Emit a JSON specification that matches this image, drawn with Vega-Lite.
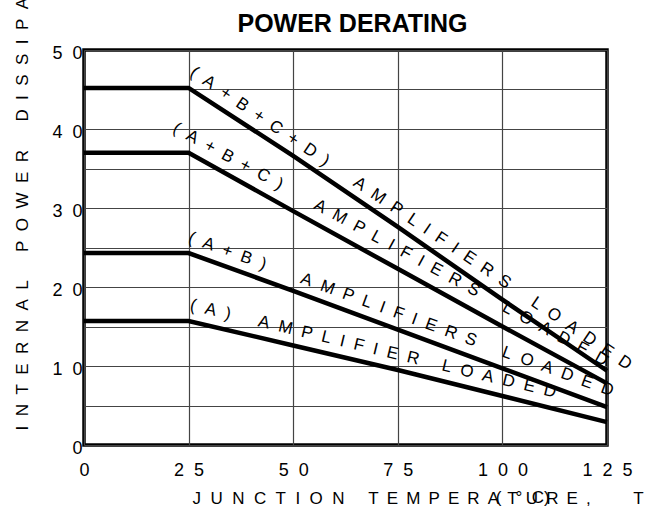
{
  "$schema": "https://vega.github.io/schema/vega-lite/v6.json",
  "width": 523,
  "height": 395,
  "autosize": {"type": "none"},
  "padding": {"left": 84, "top": 50, "right": 50, "bottom": 61},
  "background": "white",
  "config": {
    "view": {"stroke": "black", "strokeWidth": 3.5},
    "font": "Liberation Sans"
  },
  "title": {
    "text": "POWER DERATING",
    "font": "Liberation Sans",
    "fontSize": 25,
    "fontWeight": "bold",
    "color": "black",
    "anchor": "middle",
    "frame": "group",
    "dx": 7,
    "offset": -60,
    "baseline": "alphabetic"
  },
  "datasets": {
    "curves": [
      {"series": "ABCD", "x": 0, "y": 45.2}, {"series": "ABCD", "x": 25, "y": 45.2}, {"series": "ABCD", "x": 50, "y": 36.6}, {"series": "ABCD", "x": 75, "y": 27.6}, {"series": "ABCD", "x": 100, "y": 18.4}, {"series": "ABCD", "x": 125, "y": 9.4},
      {"series": "ABC", "x": 0, "y": 37.0}, {"series": "ABC", "x": 25, "y": 37.0}, {"series": "ABC", "x": 50, "y": 29.6}, {"series": "ABC", "x": 75, "y": 22.3}, {"series": "ABC", "x": 100, "y": 15.0}, {"series": "ABC", "x": 125, "y": 7.8},
      {"series": "AB", "x": 0, "y": 24.3}, {"series": "AB", "x": 25, "y": 24.3}, {"series": "AB", "x": 50, "y": 19.5}, {"series": "AB", "x": 75, "y": 14.6}, {"series": "AB", "x": 100, "y": 9.7}, {"series": "AB", "x": 125, "y": 4.8},
      {"series": "A", "x": 0, "y": 15.7}, {"series": "A", "x": 25, "y": 15.7}, {"series": "A", "x": 50, "y": 12.6}, {"series": "A", "x": 75, "y": 9.5}, {"series": "A", "x": 100, "y": 6.2}, {"series": "A", "x": 125, "y": 2.9}
    ],
    "labels": [
      {"series": "ABCD", "x": 25, "y": 45.2, "label": "(\u00a0\u00a0A\u00a0\u00a0+\u00a0\u00a0B\u00a0\u00a0+\u00a0\u00a0C\u00a0\u00a0+\u00a0\u00a0D\u00a0\u00a0)\u00a0\u00a0\u00a0\u00a0\u00a0\u00a0\u00a0A\u00a0\u00a0M\u00a0\u00a0P\u00a0\u00a0L\u00a0\u00a0I\u00a0\u00a0F\u00a0\u00a0I\u00a0\u00a0E\u00a0\u00a0R\u00a0\u00a0S\u00a0\u00a0\u00a0\u00a0\u00a0\u00a0L\u00a0\u00a0O\u00a0\u00a0A\u00a0\u00a0D\u00a0\u00a0E\u00a0\u00a0D"},
      {"series": "ABC", "x": 25, "y": 37.0, "label": "(\u00a0\u00a0A\u00a0\u00a0+\u00a0\u00a0B\u00a0\u00a0+\u00a0\u00a0C\u00a0\u00a0)\u00a0\u00a0\u00a0\u00a0\u00a0\u00a0\u00a0\u00a0A\u00a0\u00a0M\u00a0\u00a0P\u00a0\u00a0L\u00a0\u00a0I\u00a0\u00a0F\u00a0\u00a0I\u00a0\u00a0E\u00a0\u00a0R\u00a0\u00a0S\u00a0\u00a0\u00a0\u00a0\u00a0\u00a0L\u00a0\u00a0O\u00a0\u00a0A\u00a0\u00a0D\u00a0\u00a0E\u00a0\u00a0D"},
      {"series": "AB", "x": 25, "y": 24.3, "label": "(\u00a0\u00a0A\u00a0\u00a0+\u00a0\u00a0B\u00a0\u00a0)\u00a0\u00a0\u00a0\u00a0\u00a0\u00a0\u00a0\u00a0A\u00a0\u00a0M\u00a0\u00a0P\u00a0\u00a0L\u00a0\u00a0I\u00a0\u00a0F\u00a0\u00a0I\u00a0\u00a0E\u00a0\u00a0R\u00a0\u00a0S\u00a0\u00a0\u00a0\u00a0\u00a0\u00a0L\u00a0\u00a0O\u00a0\u00a0A\u00a0\u00a0D\u00a0\u00a0E\u00a0\u00a0D"},
      {"series": "A", "x": 25, "y": 15.7, "label": "(\u00a0\u00a0A\u00a0\u00a0)\u00a0\u00a0\u00a0\u00a0\u00a0\u00a0A\u00a0\u00a0M\u00a0\u00a0P\u00a0\u00a0L\u00a0\u00a0I\u00a0\u00a0F\u00a0\u00a0I\u00a0\u00a0E\u00a0\u00a0R\u00a0\u00a0\u00a0\u00a0\u00a0L\u00a0\u00a0O\u00a0\u00a0A\u00a0\u00a0D\u00a0\u00a0E\u00a0\u00a0D"}
    ],
    "notes": [
      {"x": 98.4, "y": -7.3, "note": "(\u00a0\u00a0\u00a0\u00b0\u00a0\u00a0C)"}
    ]
  },
  "encoding": {
    "x": {
      "field": "x",
      "type": "quantitative",
      "scale": {"domain": [0, 125], "nice": false, "zero": false},
      "axis": {
        "title": "J\u00a0\u00a0U\u00a0\u00a0N\u00a0\u00a0C\u00a0\u00a0T\u00a0\u00a0I\u00a0\u00a0O\u00a0\u00a0N\u00a0\u00a0\u00a0\u00a0\u00a0T\u00a0\u2009E\u00a0\u2009M\u00a0\u2009P\u00a0\u2009E\u00a0\u2009R\u00a0\u2009A\u00a0\u2009T\u00a0\u2009U\u00a0\u2009R\u00a0\u2009E\u00a0\u2009,\u00a0\u00a0\u00a0\u00a0\u00a0\u00a0\u00a0\u00a0\u00a0T",
        "values": [0, 25, 50, 75, 100, 125],
        "grid": true,
        "gridColor": "#444444",
        "gridWidth": 1.2,
        "domain": false,
        "ticks": false,
        "tickSize": 0,
        "labelFont": "Liberation Sans",
        "labelFontSize": 18,
        "labelColor": "black",
        "labelPadding": 16,
        "labelBaseline": "top",
        "labelAlign": "center",
        "labelFlush": false,
        "labelOverlap": false,
        "labelExpr": "datum.value == 0 ? '0' : '\u00a0\u00a0\u00a0\u00a0' + replace(datum.label, regexp('([0-9])(?=[0-9])', 'g'), '$1\u00a0\u00a0')",
        "titleFont": "Liberation Sans",
        "titleFontSize": 17,
        "titleFontWeight": "normal",
        "titleColor": "black",
        "titleAnchor": "start",
        "titleAlign": "left",
        "titleBaseline": "alphabetic",
        "titleX": 108,
        "titleY": 58
      }
    },
    "y": {
      "field": "y",
      "type": "quantitative",
      "scale": {"domain": [0, 50], "nice": false, "zero": false},
      "axis": {
        "title": "I\u00a0\u00a0N\u00a0\u00a0T\u00a0\u00a0E\u00a0\u00a0R\u00a0\u00a0N\u00a0\u00a0A\u00a0\u00a0L\u00a0\u00a0\u00a0\u00a0\u00a0\u00a0P\u00a0\u00a0O\u00a0\u00a0W\u00a0\u00a0E\u00a0\u00a0R\u00a0\u00a0\u00a0\u00a0\u00a0\u00a0D\u00a0\u00a0I\u00a0\u00a0S\u00a0\u00a0S\u00a0\u00a0I\u00a0\u00a0P\u00a0\u00a0A",
        "values": [0, 5, 10, 15, 20, 25, 30, 35, 40, 45, 50],
        "grid": true,
        "gridColor": "#444444",
        "gridWidth": 1.2,
        "domain": false,
        "ticks": false,
        "tickSize": 0,
        "labelFont": "Liberation Sans",
        "labelFontSize": 18,
        "labelColor": "black",
        "labelPadding": 2,
        "labelOffset": 3,
        "labelBaseline": "middle",
        "labelFlush": false,
        "labelOverlap": false,
        "labelExpr": "datum.value % 10 == 0 ? replace(datum.label, regexp('([0-9])(?=[0-9])', 'g'), '$1\u00a0\u00a0') : ''",
        "titleFont": "Liberation Sans",
        "titleFontSize": 17,
        "titleFontWeight": "normal",
        "titleColor": "black",
        "titleAngle": 270,
        "titleAnchor": "start",
        "titleAlign": "left",
        "titleBaseline": "alphabetic",
        "titleX": -57,
        "titleY": 380
      }
    }
  },
  "layer": [
    {
      "data": {"name": "curves"},
      "mark": {"type": "line", "color": "black", "strokeWidth": 4.5, "strokeJoin": "miter", "strokeCap": "butt"},
      "encoding": {"detail": {"field": "series"}}
    },
    {
      "data": {"name": "labels"},
      "transform": [{"filter": "datum.series == 'ABCD'"}],
      "mark": {"type": "text", "align": "left", "baseline": "alphabetic", "angle": 34, "dx": -7, "dy": -11, "font": "Liberation Sans", "fontSize": 17, "color": "black"},
      "encoding": {"text": {"field": "label"}}
    },
    {
      "data": {"name": "labels"},
      "transform": [{"filter": "datum.series == 'ABC'"}],
      "mark": {"type": "text", "align": "left", "baseline": "alphabetic", "angle": 28.5, "dx": -25, "dy": -10.5, "font": "Liberation Sans", "fontSize": 17, "color": "black"},
      "encoding": {"text": {"field": "label"}}
    },
    {
      "data": {"name": "labels"},
      "transform": [{"filter": "datum.series == 'AB'"}],
      "mark": {"type": "text", "align": "left", "baseline": "alphabetic", "angle": 20, "dx": -5, "dy": -10, "font": "Liberation Sans", "fontSize": 17, "color": "black"},
      "encoding": {"text": {"field": "label"}}
    },
    {
      "data": {"name": "labels"},
      "transform": [{"filter": "datum.series == 'A'"}],
      "mark": {"type": "text", "align": "left", "baseline": "alphabetic", "angle": 13.5, "dx": -2, "dy": -11, "font": "Liberation Sans", "fontSize": 17, "color": "black"},
      "encoding": {"text": {"field": "label"}}
    },
    {
      "data": {"name": "notes"},
      "mark": {"type": "text", "align": "left", "baseline": "alphabetic", "font": "Liberation Sans", "fontSize": 17, "color": "black"},
      "encoding": {"text": {"field": "note"}}
    }
  ]
}
